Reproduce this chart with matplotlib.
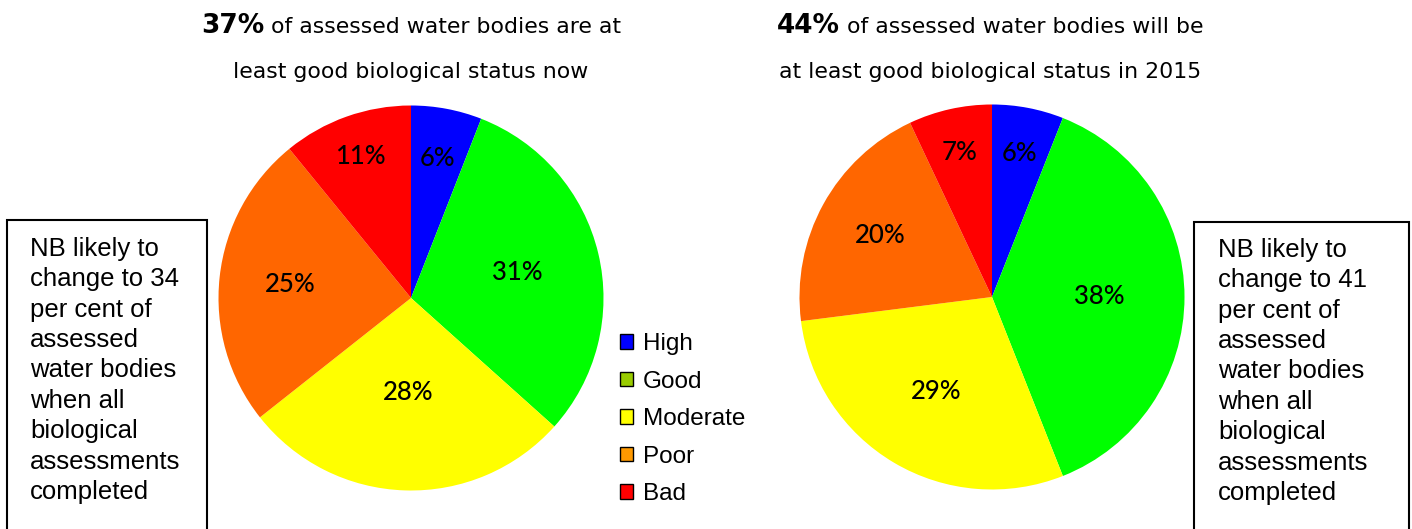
import numpy as np
import matplotlib
matplotlib.use("Agg")
import matplotlib.pyplot as plt
from matplotlib.patches import Patch, Rectangle

# data
categories = ['High', 'Good', 'Moderate', 'Poor', 'Bad']
now_pct = [6, 31, 28, 25, 11]
future_pct = [6, 38, 29, 20, 7]

title_now_bold = '37%'
title_now_rest = ' of assessed water bodies are at'
title_now_line2 = 'least good biological status now'
title_fut_bold = '44%'
title_fut_rest = ' of assessed water bodies will be'
title_fut_line2 = 'at least good biological status in 2015'

note_now = ('NB likely to\nchange to 34\nper cent of\nassessed\nwater bodies\n'
            'when all\nbiological\nassessments\ncompleted')
note_fut = ('NB likely to\nchange to 41\nper cent of\nassessed\nwater bodies\n'
            'when all\nbiological\nassessments\ncompleted')

# styles
pie_colors = ['#0000FF', '#00FF00', '#FFFF00', '#FF6600', '#FF0000']
legend_colors = ['#0000FF', '#99CC00', '#FFFF00', '#FF9900', '#FF0000']
dist_now = [0.74, 0.57, 0.49, 0.63, 0.78]
dist_fut = [0.76, 0.56, 0.57, 0.66, 0.77]

W, H = 1412, 529
fig = plt.figure(figsize=(W / 100, H / 100), dpi=100)


def px(x, y):
    # pixel coords from top-left -> figure fraction
    return x / W, 1 - y / H


def draw_pie(cx, cy, r, values, dists):
    ax = fig.add_axes([(cx - r) / W, (H - cy - r) / H, 2 * r / W, 2 * r / H])
    wedges, _ = ax.pie(values, colors=pie_colors, startangle=90, counterclock=False,
                       radius=1, wedgeprops=dict(linewidth=0))
    for w, v, d in zip(wedges, values, dists):
        ang = np.deg2rad((w.theta1 + w.theta2) / 2)
        ax.text(d * np.cos(ang), d * np.sin(ang), f'{v}%', ha='center', va='center',
                fontsize=18.5, family='Lato', fontweight='medium', color='black')
    ax.set_xlim(-1, 1)
    ax.set_ylim(-1, 1)
    ax.set_aspect('equal')
    ax.axis('off')


draw_pie(411, 298, 192.5, now_pct, dist_now)
draw_pie(992, 297, 192.5, future_pct, dist_fut)


def draw_title(cx, y1, y2, bold, rest, line2):
    t1 = fig.text(0, 0, bold, fontsize=19, fontweight='bold', family='DejaVu Sans',
                  va='baseline', ha='left')
    t2 = fig.text(0, 0, rest, fontsize=15.8, family='DejaVu Sans', va='baseline', ha='left')
    fig.canvas.draw()
    r = fig.canvas.get_renderer()
    w1 = t1.get_window_extent(r).width
    w2 = t2.get_window_extent(r).width
    x0 = cx - (w1 + w2) / 2
    t1.set_position(px(x0, y1))
    t2.set_position(px(x0 + w1, y1))
    fig.text(*px(cx, y2), line2, fontsize=15.8, family='DejaVu Sans',
             va='baseline', ha='center')


draw_title(411, 33, 78, title_now_bold, title_now_rest, title_now_line2)
draw_title(990, 33, 78, title_fut_bold, title_fut_rest, title_fut_line2)

# note boxes
for x0, x1, top, tx, ty, txt in [(7, 207, 220, 30, 242, note_now),
                                 (1194, 1409, 222, 1218, 243, note_fut)]:
    fig.patches.append(Rectangle(px(x0, H + 20), (x1 - x0) / W, (H + 20 - top) / H,
                                 transform=fig.transFigure, fill=False,
                                 edgecolor='black', linewidth=1.5))
    fig.text(*px(tx, ty - 5), txt, fontsize=18.5, family='Liberation Sans',
             va='top', ha='left', linespacing=1.335)

# legend
handles = [Patch(facecolor=c, edgecolor='black', linewidth=1) for c in legend_colors]
fig.legend(handles, categories, loc='upper left', bbox_to_anchor=px(620, 333),
           frameon=False, prop={'family': 'Liberation Sans', 'size': 17.5},
           handlelength=0.55, handleheight=0.55, handletextpad=0.38,
           labelspacing=0.64, borderpad=0, borderaxespad=0)

fig.savefig('out.png', dpi=100, facecolor='white')
